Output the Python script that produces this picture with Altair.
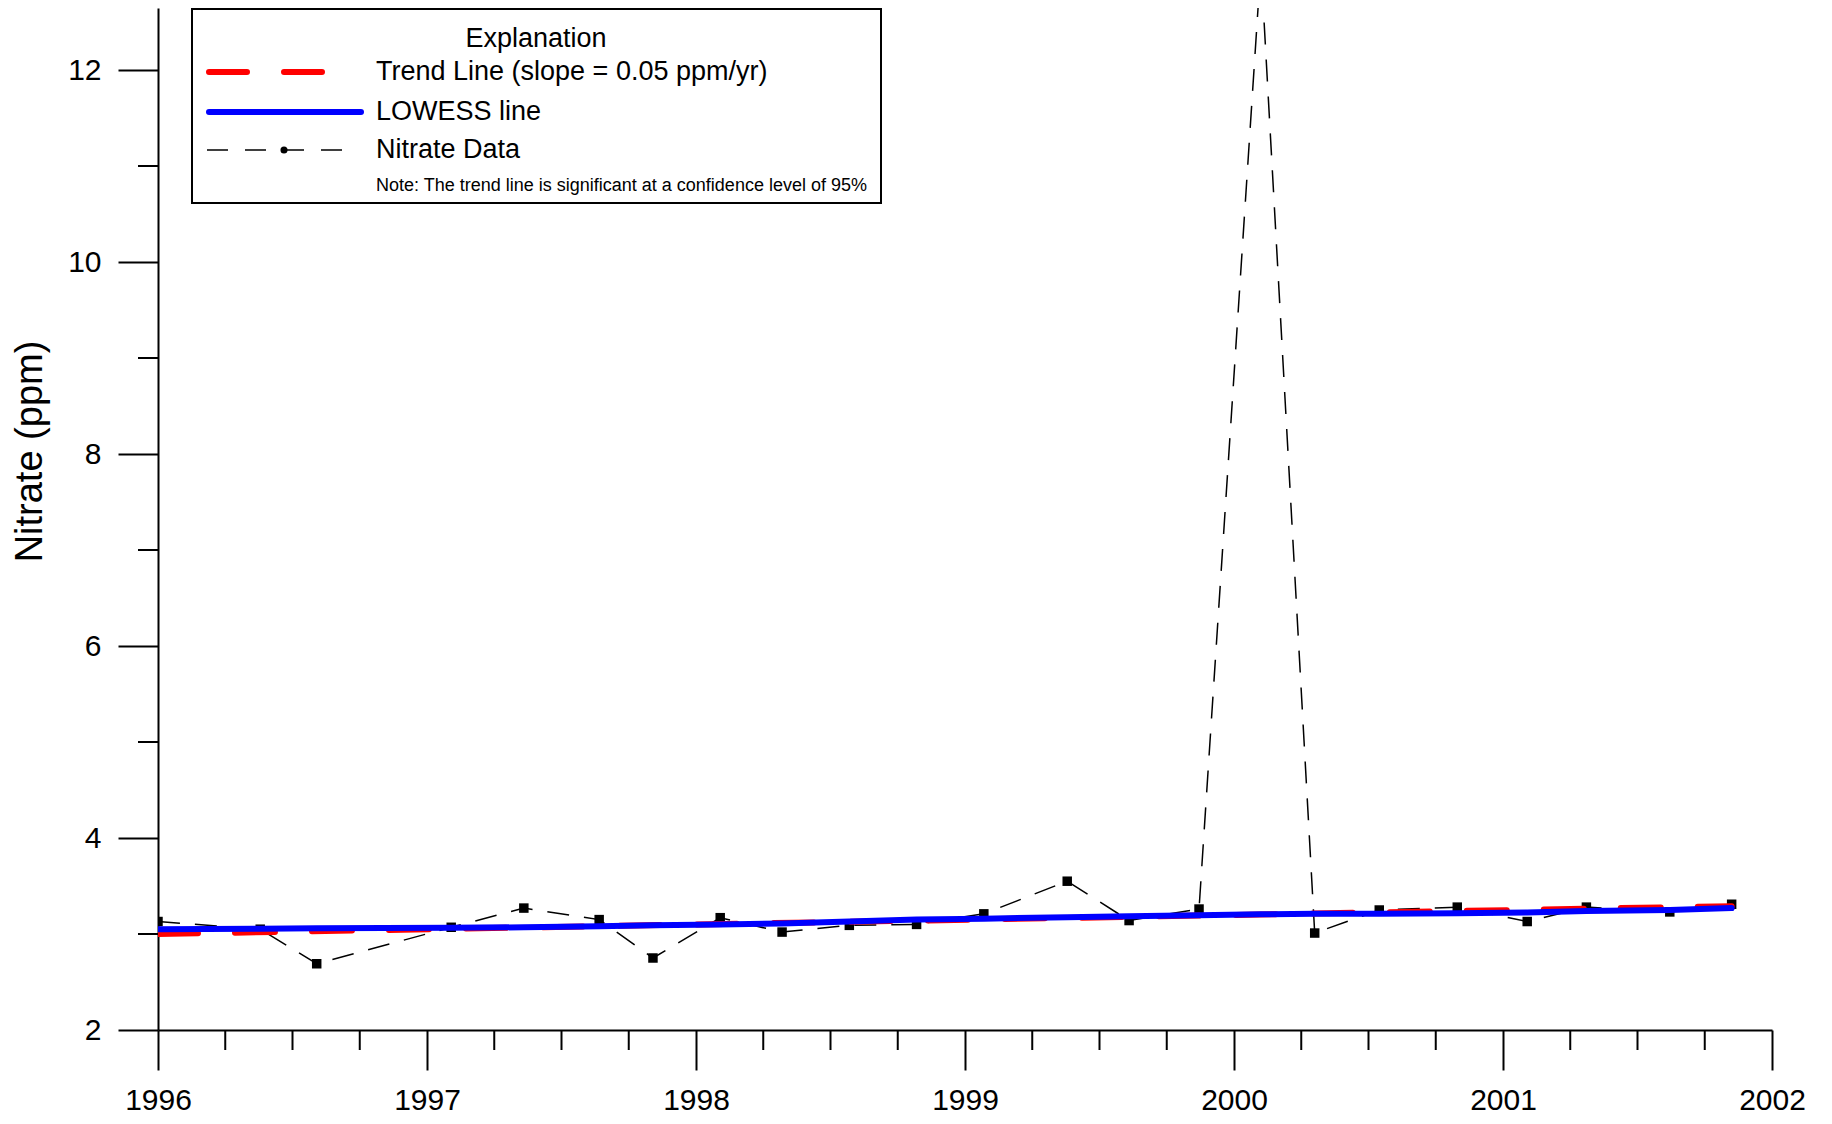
import altair as alt
import pandas as pd

# ---------------- data ----------------
data_years = [1996.00, 1996.38, 1996.59, 1997.09, 1997.36, 1997.64, 1997.84,
              1998.09, 1998.32, 1998.57, 1998.82, 1999.07, 1999.38, 1999.61,
              1999.87, 2000.10, 2000.30, 2000.54, 2000.83, 2001.09, 2001.31,
              2001.62, 2001.85]
nitrate_ppm = [3.13, 3.05, 2.69, 3.07, 3.27, 3.15, 2.75,
               3.17, 3.02, 3.09, 3.10, 3.21, 3.55, 3.14,
               3.26, 13.1, 3.01, 3.25, 3.28, 3.13, 3.28,
               3.23, 3.31]
lowess_ppm = [3.05, 3.055, 3.06, 3.065, 3.07, 3.08, 3.09,
              3.10, 3.11, 3.13, 3.15, 3.16, 3.175, 3.185,
              3.195, 3.205, 3.21, 3.21, 3.215, 3.225, 3.24,
              3.25, 3.27]
trend_years = [1996.0, 2001.85]
trend_ppm = [3.00, 3.29]

x_major = [1996, 1997, 1998, 1999, 2000, 2001, 2002]
x_minor = [y + q for y in range(1996, 2002) for q in (0.25, 0.5, 0.75)]
y_major = [2, 4, 6, 8, 10, 12]
y_minor = [3, 5, 7, 9, 11]

legend_title = "Explanation"
legend_labels = ["Trend Line (slope = 0.05 ppm/yr)", "LOWESS line", "Nitrate Data"]
legend_note = "Note: The trend line is significant at a confidence level of 95%"
y_title = "Nitrate (ppm)"

# ---------------- layout ----------------
W, H = 1614, 1022
FONT = "Liberation Sans"

x_scale = alt.Scale(domain=[1996, 2002], nice=False, zero=False)
y_scale = alt.Scale(domain=[2, 12.646], nice=False, zero=False)

x_axis = alt.Axis(values=x_major, format="d", title="", grid=False,
                  tickSize=40, tickWidth=2, tickColor="black",
                  domainWidth=2, domainColor="black",
                  labelFontSize=30, labelFont=FONT, labelColor="black",
                  labelPadding=15, labelFlush=False, labelOverlap=False)
y_axis = alt.Axis(values=y_major, format="d", grid=False,
                  tickSize=40, tickWidth=2, tickColor="black",
                  domainWidth=2, domainColor="black",
                  labelFontSize=30, labelFont=FONT, labelColor="black",
                  labelPadding=17, labelFlush=False, labelOverlap=False,
                  title=y_title, titleFontSize=38, titleFont=FONT,
                  titleFontWeight="normal", titleColor="black",
                  titleAngle=270, titleAlign="center", titleBaseline="alphabetic",
                  titleX=-117, titleY=443)

data_df = pd.DataFrame({"year": data_years, "ppm": nitrate_ppm})
lowess_df = pd.DataFrame({"year": data_years, "ppm": lowess_ppm})
trend_df = pd.DataFrame({"year": trend_years, "ppm": trend_ppm})

X = alt.X("year:Q", scale=x_scale, axis=x_axis)
Y = alt.Y("ppm:Q", scale=y_scale, axis=y_axis)

data_line = alt.Chart(data_df).mark_line(
    color="black", strokeWidth=1.5, strokeDash=[22, 15], clip=True
).encode(x=X, y=Y)

data_pts = alt.Chart(data_df).mark_square(
    size=90, color="black", opacity=1, filled=True, clip=True
).encode(x=X, y=Y)

trend = alt.Chart(trend_df).mark_line(
    color="#FF0000", strokeWidth=6, strokeDash=[40, 37], strokeCap="round", clip=True
).encode(x=X, y=Y)

lowess = alt.Chart(lowess_df).mark_line(
    color="#0000FF", strokeWidth=6, strokeCap="round", clip=True
).encode(x=X, y=Y)

# minor ticks
xminor = alt.Chart(pd.DataFrame({"year": x_minor})).mark_rule(
    color="black", strokeWidth=2
).encode(x=X, y=alt.value(H), y2=alt.value(H + 20))

yminor = alt.Chart(pd.DataFrame({"ppm": y_minor})).mark_rule(
    color="black", strokeWidth=2
).encode(y=Y, x=alt.value(0), x2=alt.value(-20))

# ---------------- legend ----------------
one = pd.DataFrame({"k": [0]})
box = alt.Chart(one).mark_rect(
    fill="white", stroke="black", strokeWidth=2
).encode(x=alt.value(34), x2=alt.value(723), y=alt.value(1), y2=alt.value(195))

leg_title = alt.Chart(one).mark_text(
    font=FONT, fontSize=27, align="center", baseline="middle", color="black"
).encode(x=alt.value(378), y=alt.value(31), text=alt.value(legend_title))

leg_red = alt.Chart(one).mark_rule(
    color="#FF0000", strokeWidth=6, strokeDash=[38, 37], strokeCap="round"
).encode(x=alt.value(51), x2=alt.value(165), y=alt.value(64))

leg_blue = alt.Chart(one).mark_rule(
    color="#0000FF", strokeWidth=6, strokeCap="round"
).encode(x=alt.value(51), x2=alt.value(203), y=alt.value(104))

leg_black = alt.Chart(one).mark_rule(
    color="black", strokeWidth=1.5, strokeDash=[21, 17]
).encode(x=alt.value(49), x2=alt.value(187), y=alt.value(142))

leg_dot = alt.Chart(one).mark_circle(
    size=50, color="black", opacity=1
).encode(x=alt.value(126), y=alt.value(142))

leg_texts = [
    alt.Chart(one).mark_text(
        font=FONT, fontSize=27, align="left", baseline="middle", color="black"
    ).encode(x=alt.value(218), y=alt.value(yy), text=alt.value(lbl))
    for lbl, yy in zip(legend_labels, [64, 104, 142])
]

leg_note = alt.Chart(one).mark_text(
    font=FONT, fontSize=18, align="left", baseline="middle", color="black"
).encode(x=alt.value(218), y=alt.value(178), text=alt.value(legend_note))

chart = alt.layer(
    data_line, data_pts, trend, lowess, xminor, yminor,
    box, leg_title, leg_red, leg_blue, leg_black, leg_dot, *leg_texts, leg_note
).properties(
    width=W, height=H,
    padding={"left": 150, "top": 0, "right": 52, "bottom": 86},
    autosize=alt.AutoSizeParams(type="none"),
    background="white",
).configure_view(strokeWidth=0)

chart.save("out.html", embed_options={"renderer": "svg", "actions": False})
